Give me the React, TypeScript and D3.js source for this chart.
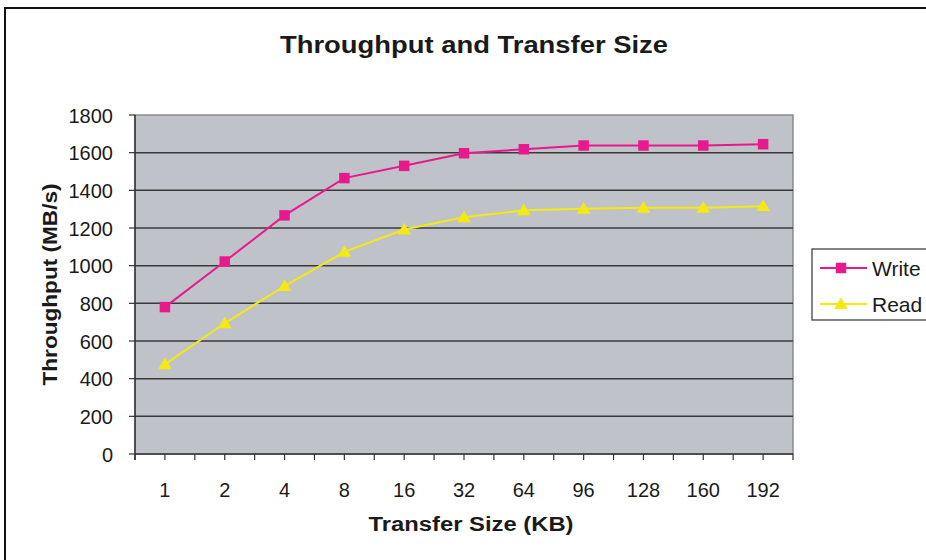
import React from "react";
import * as d3 from "d3";

const categories = ["1", "2", "4", "8", "16", "32", "64", "96", "128", "160", "192"];
const writeValues = [780, 1022, 1267, 1465, 1530, 1597, 1618, 1638, 1638, 1638, 1645];
const readValues = [476, 694, 892, 1073, 1192, 1257, 1294, 1302, 1307, 1307, 1316];
const yTicks = [0, 200, 400, 600, 800, 1000, 1200, 1400, 1600, 1800];
const seriesNames = ["Write", "Read"];

const W = 926;
const H = 560;
const FONT = "'Liberation Sans', Arial, Helvetica, sans-serif";
const WRITE_COLOR = "#E8198C";
const READ_COLOR = "#F4EA12";

export default function App() {
  const left = 135, right = 793, top = 115, bottom = 454;
  const x = d3.scaleBand<string>().domain(categories).range([left, right]).padding(0);
  const y = d3.scaleLinear().domain([0, 1800]).range([bottom, top]);
  const cx = (c: string) => (x(c) as number) + x.bandwidth() / 2;

  const line = d3.line<number>().x((_, i) => cx(categories[i])).y((v) => y(v));
  const square = d3.symbol().type(d3.symbolSquare).size(110)();
  const tri = d3.symbol().type(d3.symbolTriangle).size(80)();

  const halfTicks: number[] = [];
  for (let i = 0; i <= categories.length * 2; i++) halfTicks.push(left + (i * x.bandwidth()) / 2);

  return (
    <svg width={W} height={H} style={{ position: "absolute", left: 0, top: 0, display: "block", background: "#fff" }}>
      {/* outer frame */}
      <rect x={5} y={8} width={1000} height={700} fill="#fff" stroke="#111" strokeWidth={2} />
      {/* title */}
      <text x={474} y={53.3} textAnchor="middle" fontFamily={FONT} fontWeight="bold" fontSize={24}
        textLength={388} lengthAdjust="spacingAndGlyphs" fill="#1a1a1a">Throughput and Transfer Size</text>

      {/* plot area */}
      <rect x={left} y={top} width={right - left} height={bottom - top} fill="#C0C2C9" stroke="#8a8a8a" strokeWidth={1.5} />
      {yTicks.filter((t) => t > 0 && t < 1800).map((t) => (
        <line key={t} x1={left} x2={right} y1={y(t)} y2={y(t)} stroke="#3a3a3a" strokeWidth={1.5} />
      ))}
      {/* y axis */}
      <line x1={left} x2={left} y1={top} y2={bottom + 6} stroke="#333" strokeWidth={1.5} />
      {yTicks.map((t) => (
        <g key={t}>
          <line x1={left - 6} x2={left} y1={y(t)} y2={y(t)} stroke="#333" strokeWidth={1.2} />
          <text x={113} y={y(t) + 7.5} textAnchor="end" fontFamily={FONT} fontSize={20} fill="#1a1a1a">{t}</text>
        </g>
      ))}
      {/* x axis */}
      <line x1={left} x2={right} y1={bottom} y2={bottom} stroke="#333" strokeWidth={1.5} />
      {halfTicks.map((tx, i) => (
        <line key={i} x1={tx} x2={tx} y1={bottom} y2={bottom + 6} stroke="#333" strokeWidth={1.2} />
      ))}
      {categories.map((c) => (
        <text key={c} x={cx(c)} y={496.5} textAnchor="middle" fontFamily={FONT} fontSize={20} fill="#1a1a1a">{c}</text>
      ))}

      {/* axis titles */}
      <text x={471} y={530.5} textAnchor="middle" fontFamily={FONT} fontWeight="bold" fontSize={19.5}
        textLength={205} lengthAdjust="spacingAndGlyphs" fill="#1a1a1a">Transfer Size (KB)</text>
      <text transform={`translate(56.5, ${(top + bottom) / 2}) rotate(-90)`} textAnchor="middle" fontFamily={FONT}
        fontWeight="bold" fontSize={19.5} textLength={202} lengthAdjust="spacingAndGlyphs" fill="#1a1a1a">Throughput (MB/s)</text>

      {/* series */}
      <path d={line(writeValues) as string} fill="none" stroke={WRITE_COLOR} strokeWidth={2} />
      <path d={line(readValues) as string} fill="none" stroke={READ_COLOR} strokeWidth={2} />
      {writeValues.map((v, i) => (
        <path key={"w" + i} d={square as string} transform={`translate(${cx(categories[i])},${y(v)})`} fill={WRITE_COLOR} />
      ))}
      {readValues.map((v, i) => (
        <path key={"r" + i} d={tri as string} transform={`translate(${cx(categories[i])},${y(v) + 1})`} fill={READ_COLOR} />
      ))}

      {/* legend */}
      <rect x={812} y={249} width={200} height={71} fill="#fff" stroke="#333" strokeWidth={1.2} />
      {seriesNames.map((name, i) => {
        const ly = 268 + i * 36;
        const color = i === 0 ? WRITE_COLOR : READ_COLOR;
        return (
          <g key={name}>
            <line x1={820} x2={867} y1={ly} y2={ly} stroke={color} strokeWidth={2} />
            <path d={(i === 0 ? square : tri) as string} transform={`translate(841,${ly + (i === 0 ? 0 : 1)})`} fill={color} />
            <text x={872} y={ly + 8} fontFamily={FONT} fontSize={21} fill="#1a1a1a">{name}</text>
          </g>
        );
      })}
    </svg>
  );
}
